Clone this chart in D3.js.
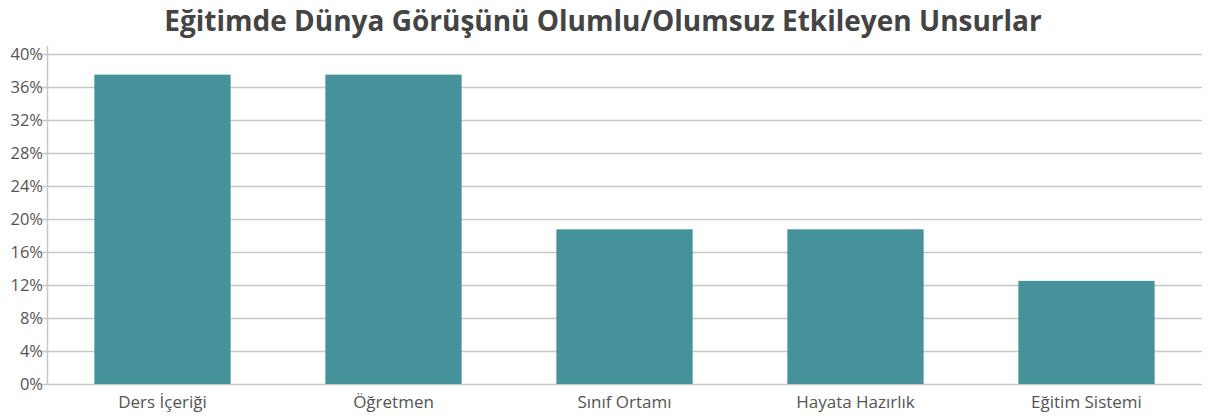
<!DOCTYPE html>
<html><head><meta charset="utf-8">
<script src="https://cdn.jsdelivr.net/npm/d3@7"></script>
<style>
html,body{margin:0;padding:0;background:#fff;}
svg{display:block;font-family:"Open Sans","Noto Sans",sans-serif;}
</style></head>
<body><svg id="chart" width="1213" height="416"></svg>
<script>
const title = "Eğitimde Dünya Görüşünü Olumlu/Olumsuz Etkileyen Unsurlar";
const categories = ["Ders İçeriği", "Öğretmen", "Sınıf Ortamı", "Hayata Hazırlık", "Eğitim Sistemi"];
const values = [37.5, 37.5, 18.75, 18.75, 12.5];
const yTicks = [0, 4, 8, 12, 16, 20, 24, 28, 32, 36, 40];

const svg = d3.select("#chart");
const m = {left: 47, right: 1202, top: 54, bottom: 384};

const x = d3.scaleBand().domain(categories).range([m.left, m.right]).paddingInner(0.41).paddingOuter(0.205);
const y = d3.scaleLinear().domain([0, 40]).range([m.bottom, m.top]);

// gridlines
svg.append("g").selectAll("line").data(yTicks).join("line")
  .attr("x1", m.left - 5).attr("x2", m.right)
  .attr("y1", d => y(d) + 0.5).attr("y2", d => y(d) + 0.5)
  .attr("stroke", "#c8c8c8").attr("stroke-width", 1.5);

// left axis line
svg.append("line").attr("x1", m.left + 0.5).attr("x2", m.left + 0.5)
  .attr("y1", m.top - 8).attr("y2", m.bottom + 1)
  .attr("stroke", "#c8c8c8").attr("stroke-width", 1.5);

// y labels
svg.append("g").selectAll("text").data(yTicks).join("text")
  .attr("x", m.left - 4).attr("y", d => y(d)).attr("dy", "0.35em")
  .attr("text-anchor", "end").attr("fill", "#555").attr("font-size", 16.5)
  .text(d => d + "%");

// bars
svg.append("g").selectAll("rect").data(values).join("rect")
  .attr("x", (d, i) => x(categories[i])).attr("width", x.bandwidth())
  .attr("y", d => y(d)).attr("height", d => y(0) - y(d))
  .attr("fill", "#46929b");

// x labels
svg.append("g").selectAll("text").data(categories).join("text")
  .attr("x", d => x(d) + x.bandwidth() / 2).attr("y", 408)
  .attr("text-anchor", "middle").attr("fill", "#555").attr("font-size", 17)
  .text(d => d);

// title
svg.append("text").attr("x", 603).attr("y", 31)
  .attr("text-anchor", "middle").attr("fill", "#444").attr("font-weight", "bold")
  .attr("font-size", 28).text(title);
</script></body></html>
